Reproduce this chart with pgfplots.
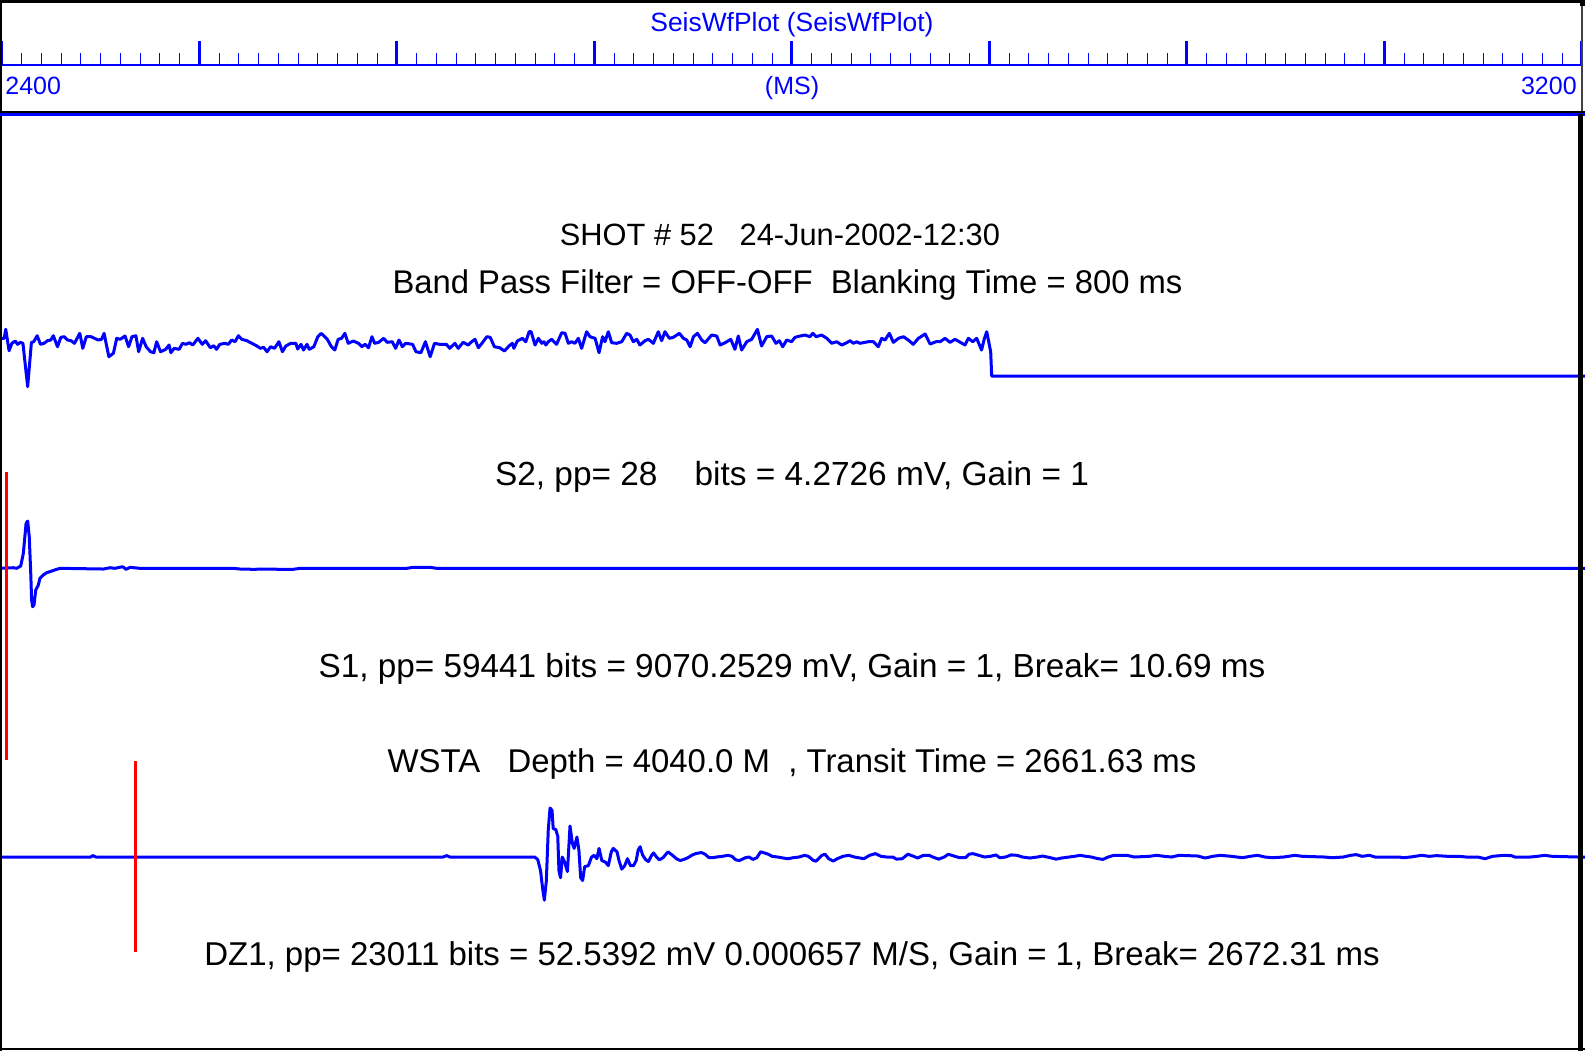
\documentclass[border=0pt]{standalone}
\usepackage{fontspec}
\setmainfont{Liberation Sans}
\usepackage{pgfplots}
\pgfplotsset{compat=1.18}
\begin{document}
\begin{tikzpicture}
\useasboundingbox (0pt,0pt) rectangle (792.5pt,-525.5pt);
\begin{axis}[at={(0,0)}, anchor=north west, scale only axis, width=792.5pt, height=525.5pt,
  xmin=2398.99, xmax=3201.52, ymin=0, ymax=1051, y dir=reverse, hide axis, clip=true]
% trace 1 (top, noisy)
\addplot[blue, line width=1.5pt, line join=round] coordinates {
(2398.99,338.3)(2401.1,338.3)(2401.9,329.3)(2403.6,350.7)(2405.0,343.3)(2406.7,341)(2407.9,344.3)(2409.3,342.3)(2410.6,343.3)
(2413.0,386.7)(2414.9,342.3)(2416.1,341.7)(2417.8,335.7)(2419.5,344.3)(2421.3,343.3)(2423.0,340.7)(2424.7,340)(2426.0,335.7)
(2428.1,346.7)(2429.8,337.3)(2431.5,336.7)(2433.2,340)(2435.0,340.7)(2436.7,343.3)(2439.4,333.3)(2440.9,348.3)(2442.7,336.7)
(2445.2,336.7)(2448.6,340)(2450.4,339.3)(2451.7,333.3)(2454.1,356.7)(2456.4,353.3)(2458.1,338.3)(2459.8,339.3)(2462.3,336)
(2464.1,346.7)(2465.8,336.7)(2467.8,335.7)(2469.2,351.7)(2471.2,338.3)(2473.0,346.7)(2475.2,351.7)(2476.9,352.7)(2478.3,341.7)
(2480.3,351.7)(2482.9,349.3)(2484.6,345)(2485.5,352.7)(2487.2,348.3)(2489.7,349.3)(2491.4,343.3)(2493.2,344.3)(2494.9,342.7)
(2496.6,345)(2499.2,338.3)(2501.4,344.3)(2503.1,340.7)(2505.5,347.7)(2507.2,345.7)(2508.6,349.3)(2510.3,344.3)(2512.8,343.3)
(2514.6,344.3)(2516.3,340)(2518.0,341.7)(2519.7,335.7)(2521.4,339.3)(2524.0,340.7)(2526.5,343.3)(2529.1,346)(2530.8,348.3)
(2532.5,347.3)(2534.2,351.7)(2536.0,346.7)(2538.0,348.3)(2540.2,341.7)(2542.0,351.7)(2543.7,346)(2546.2,343.3)(2548.8,343.3)
(2549.7,349)(2551.4,344.3)(2552.7,350)(2554.4,344.3)(2555.6,349.3)(2557.9,346.7)(2559.9,336.7)(2561.6,333.3)(2563.4,336.7)
(2564.7,339.3)(2566.8,346.7)(2568.5,350)(2570.2,339.3)(2571.9,338.3)(2573.6,333.3)(2575.3,343.3)(2577.9,341)(2580.5,343.3)
(2582.2,346.7)(2583.9,344.3)(2585.6,347.7)(2587.3,336.7)(2588.7,343.3)(2590.7,342.3)(2593.3,338.3)(2595.0,342.3)(2597.6,341.7)
(2599.3,348.3)(2601.0,340)(2602.7,346.7)(2604.4,343.3)(2607.9,344.3)(2609.6,351.7)(2612.1,352.7)(2614.4,341.7)(2616.8,356.7)
(2619.0,343.3)(2621.6,344.3)(2625.0,344.3)(2626.7,348.3)(2629.3,343.3)(2631.0,348.3)(2633.5,342.3)(2636.1,345)(2637.8,341.7)
(2639.5,339.3)(2641.2,347.7)(2643.0,343.3)(2645.5,336.7)(2647.2,337.3)(2649.3,346.7)(2652.0,347.7)(2654.4,351)(2656.7,346)
(2658.4,343.3)(2659.2,348.3)(2660.9,341)(2663.5,338.3)(2665.2,341.7)(2666.9,331.7)
(2667.9,331.7)(2669.9,345)(2671.6,338.3)(2673.3,343.3)(2674.4,341.7)(2675.4,345)(2676.6,341.7)(2678.3,339.3)(2680.8,344.3)
(2683.4,332.7)(2685.1,333.3)(2686.8,343.3)(2688.4,341.7)(2690.1,343.3)(2691.8,338.3)(2693.5,348.3)(2696.0,331.7)(2697.7,336.7)
(2700.3,338.3)(2702.3,352.7)(2704.1,336.7)(2705.3,341.7)(2707.0,331.7)(2708.7,342.7)(2711.2,343.3)(2713.8,341.7)(2716.3,333.3)
(2718.0,335)(2719.7,341.7)(2721.4,339.3)(2723.0,345)(2725.6,340.7)(2727.3,339.3)(2729.8,343.3)(2732.3,331.7)(2734.0,340.7)
(2735.7,331.7)(2737.9,338.3)(2739.9,337.3)(2743.0,333.3)(2745.0,338.3)(2746.7,340)(2748.4,346.7)(2750.1,336.7)(2752.1,333.3)
(2754.3,340)(2756.0,342.7)(2759.3,335)(2761.9,336)(2763.6,345)(2766.1,342.7)(2769.0,339.3)(2771.1,349.3)(2772.8,336)
(2774.5,350)(2777.1,341.7)(2779.6,339.3)(2782.5,329.3)(2784.6,346)(2787.2,336.7)(2789.7,336)(2791.9,343.3)(2793.6,340.7)
(2795.3,346.7)(2797.3,340)(2799.8,341.7)(2801.5,337.3)(2804.1,336)(2806.6,335)(2809.1,336.7)(2810.5,333.3)(2812.2,336.7)
(2815.0,335)(2817.6,338.3)(2820.1,343.3)(2822.6,341.7)(2825.2,345)(2827.7,342.7)(2829.4,340.7)(2831.1,343.3)(2832.8,341.7)
(2834.4,343.3)(2837.0,342.3)(2838.7,341.7)(2841.2,341.7)(2843.7,346.7)(2845.4,338.3)(2847.1,340)(2849.3,333.3)(2851.3,342.3)
(2853.9,338.3)(2856.4,336.7)(2858.9,340)(2861.4,344.3)(2864.0,338.3)(2867.4,334)(2869.9,344)(2872.9,341.7)(2875.0,341.7)
(2877.5,338.3)(2880.0,342.3)(2882.5,339.3)(2884.7,341.7)(2887.6,345)(2889.3,338.3)(2891.5,341.7)(2893.5,338.3)(2896.0,350)
(2897.2,340)(2898.6,331.7)(2900.6,351.7)(2901.1,376)(3201.5,376)};
% trace 2 (middle)
\addplot[blue, line width=1.5pt, line join=round] coordinates {
(2398.99,568.3)(2405.7,567.7)(2407.4,568.3)(2409.5,566)(2410.8,553.3)(2412.2,523.3)(2413.0,521)(2413.8,536.7)(2414.5,570)
(2415.0,600)(2415.5,606.7)(2416.2,605)(2417.1,590)(2418.4,585)(2419.2,578.3)(2420.9,575)(2422.6,572.7)(2425.2,571)
(2427.7,569.3)(2429.4,568.3)(2451.3,569)(2454.7,567.7)(2457.2,568.3)(2461.1,566.7)(2462.8,569.3)(2464.8,567.3)(2469.9,568.3)
(2517.1,568.3)(2520.5,569)(2527.3,569.3)(2534.0,569)(2540.8,569.3)(2547.5,569.3)(2550.9,568.3)(2604.9,568.3)(2608.3,567.3)
(2616.7,567.3)(2620.1,568.3)(2652.2,568.3)(3201.5,568.3)};
% trace 3 (bottom)
\addplot[blue, line width=1.5pt, line join=round] coordinates {
(2398.99,857)(2445,857)(2446,855.5)(2447.5,857)(2623.3,857)(2625.2,855.6)(2626.8,857)(2669.8,857)(2671.3,859.8)
(2672.7,870.8)(2673.7,888)(2674.6,900.1)(2675.6,881.2)(2676.6,829.4)(2677.5,808)(2678.5,810.4)(2679.1,828.7)(2680.4,829.4)
(2681.4,836.3)(2682.0,870.8)(2682.8,877.7)(2683.7,857)(2684.9,862.2)(2686.3,871.5)(2687.6,826)(2688.8,843.2)(2689.7,848.4)
(2691.1,837)(2692.1,850.1)(2693.0,877.7)(2694.0,880.5)(2695.0,866.7)(2696.9,865.6)(2698.5,857)(2699.8,855.3)(2701.2,858.7)
(2702.3,848.4)(2703.7,860.5)(2705.6,862.2)(2707.0,865.6)(2708.5,851.8)(2709.5,848.4)(2711.4,851.8)(2712.4,860.5)(2713.8,869.1)
(2715.3,865.6)(2716.7,858.7)(2718.2,865.6)(2719.8,865.6)(2721.1,860.5)(2722.1,850.1)(2723.1,846.7)(2724.4,855.3)(2726.0,859.8)
(2727.3,861.5)(2728.9,855.3)(2729.9,852.9)(2731.4,857)(2732.8,859.8)(2734.7,857.7)(2737.2,851.8)(2739.5,855.3)(2741.5,858.7)
(2743.4,860.5)(2745.3,859.4)(2747.3,857.7)(2749.2,855.3)(2751.2,853.6)(2754.1,852.5)(2756.0,854.2)(2758.0,857.7)(2759.9,857.7)
(2761.8,857)(2764.7,856.3)(2767.6,855.3)(2769.6,856.3)(2771.5,859.8)(2773.4,860.5)(2776.4,857.7)(2778.3,857)(2780.2,859.4)
(2782.2,857.7)(2784.1,851.8)(2786.0,852.9)(2788.0,854.2)(2789.9,856.3)(2792.8,857)(2794.8,857.7)(2797.7,858.7)(2800.6,857.7)
(2803.5,857)(2806.4,855.3)(2808.3,856.3)(2810.9,860.5)(2812.2,861.1)(2815.1,855.3)(2816.7,854.2)(2818.6,858.7)(2820.9,861.1)
(2822.9,858.7)(2825.8,856.3)(2828.7,855.3)(2831.6,857)(2834.5,858)(2836.4,858.7)(2839.3,855.3)(2842.2,853.6)(2845.1,856.3)
(2848.0,857)(2851.0,857)(2852.9,859.1)(2855.8,858.7)(2858.7,854.2)(2861.6,856.3)(2863.6,858)(2866.5,855.3)(2869.4,855.3)
(2871.3,857)(2874.2,859.1)(2877.1,857)(2879.1,854.2)(2882.0,856)(2884.9,857.7)(2887.8,857.7)(2889.7,854.2)(2891.6,853.6)
(2894.6,855.3)(2897.5,857)(2900.4,856.3)(2903.3,854.9)(2905.2,857.7)(2908.1,857)(2911.0,854.9)(2913.9,855.3)
(2916.7,857)(2920.4,858)(2924.2,857)(2927.0,856)(2930.8,857.7)(2933.7,859.1)(2936.5,858)(2940.3,857)(2943.1,856.3)
(2945.9,855.3)(2948.8,856.3)(2951.6,857)(2954.4,858.4)(2957.3,859.4)(2960.1,857)(2963.0,855.3)(2969.6,855.3)(2973.3,857)
(2980.9,856.3)(2984.7,855.3)(2988.4,856.3)(2992.2,857)(2996.0,855.3)(3005.5,856)(3009.2,858)(3013.0,856.3)(3016.8,855.3)
(3022.5,856.3)(3028.1,857.7)(3031.9,856.3)(3035.7,855.3)(3039.5,857)(3043.2,857.7)(3048.9,857)(3054.6,855.3)(3058.4,856.3)
(3069.7,857)(3073.5,857.7)(3079.1,857)(3082.9,855.3)(3085.7,854.6)(3088.6,856.3)(3092.4,855.3)(3095.2,857)(3107.5,857)
(3109.4,857.7)(3113.1,857)(3118.8,855.3)(3122.6,856.3)(3126.4,855.6)(3132.0,856.3)(3137.7,856.3)(3141.5,857)(3147.2,857)
(3150.9,858.7)(3154.7,856.3)(3160.4,855.3)(3164.2,855.6)(3166.0,857)(3173.6,857)(3177.4,856.3)(3181.1,855.3)(3184.9,856.3)
(3198.2,857)(3201.5,857)};
% break markers
\addplot[red, line width=1.5pt] coordinates {(2402.5,472) (2402.5,760)};
\addplot[red, line width=1.5pt] coordinates {(2467.6,761) (2467.6,952)};
% header texts
\node[anchor=base, inner sep=0, text=blue, font=\fontsize{13.2}{15}\selectfont] at (axis cs:2800,31) {SeisWfPlot (SeisWfPlot)};
\node[anchor=base, inner sep=0, text=blue, font=\fontsize{12.5}{15}\selectfont] at (axis cs:2800,94) {(MS)};
\node[anchor=base west, inner sep=0, text=blue, font=\fontsize{12.5}{15}\selectfont] at (axis cs:2401.5,94) {2400};
\node[anchor=base east, inner sep=0, text=blue, font=\fontsize{12.5}{15}\selectfont] at (axis cs:3197.5,94) {3200};
% main texts
\node[anchor=base, inner sep=0, font=\fontsize{15.4}{19}\selectfont] at (axis cs:2793.9,245) {SHOT \# 52\ \ \ 24-Jun-2002-12:30};
\node[anchor=base, inner sep=0, font=\fontsize{16.4}{19}\selectfont] at (axis cs:2797.7,293) {Band Pass Filter = OFF-OFF\ \ Blanking Time = 800 ms};
\node[anchor=base, inner sep=0, font=\fontsize{16.7}{19}\selectfont] at (axis cs:2800,485) {S2, pp= 28\ \ \ \ bits = 4.2726 mV, Gain = 1};
\node[anchor=base, inner sep=0, font=\fontsize{16.65}{19}\selectfont] at (axis cs:2800,677) {S1, pp= 59441 bits = 9070.2529 mV, Gain = 1, Break= 10.69 ms};
\node[anchor=base, inner sep=0, font=\fontsize{16.45}{19}\selectfont] at (axis cs:2800,772) {WSTA\ \ \ Depth = 4040.0 M\ \ , Transit Time = 2661.63 ms};
\node[anchor=base, inner sep=0, font=\fontsize{16.5}{19}\selectfont] at (axis cs:2800,965) {DZ1, pp= 23011 bits = 52.5392 mV 0.000657 M/S, Gain = 1, Break= 2672.31 ms};
\end{axis}
% header time axis
\begin{axis}[at={(1pt,-32.5pt)}, anchor=south west, scale only axis, width=790pt, height=10pt,
  xmin=2400, xmax=3200, ymin=0, ymax=1,
  axis x line=bottom, axis y line=none,
  x axis line style={-, blue, line width=1.2pt},
  xtick={2400,2500,...,3200}, minor x tick num=9, xticklabels={},
  xticklabel style={inner sep=0pt, outer sep=0pt},
  tick align=inside, major tick length=12pt, minor tick length=6pt,
  every major tick/.append style={blue, line width=1.5pt},
  every minor tick/.append style={blue, line width=0.5pt}]
\addplot[draw=none] coordinates {(2400,0) (3200,1)};
\end{axis}
% frame lines
\begin{scope}[x=0.5pt,y=-0.5pt]
\draw[black, line width=1.35pt] (0,1.35) -- (1585,1.35);
\draw[black, line width=1pt] (1,0) -- (1,1051);
\draw[black!75, line width=0.7pt] (1582,0) -- (1582,112);
\draw[black, line width=2.5pt] (1582.5,0) -- (1582.5,6);
\draw[black, line width=0.7pt] (0,112) -- (1585,112);
\draw[blue, line width=1.3pt] (0,114.5) -- (1585,114.5);
\draw[black, line width=2.5pt] (1580.5,114) -- (1580.5,1051);
\draw[black, line width=1.25pt] (0,1049) -- (1585,1049);
\end{scope}
\end{tikzpicture}
\end{document}
